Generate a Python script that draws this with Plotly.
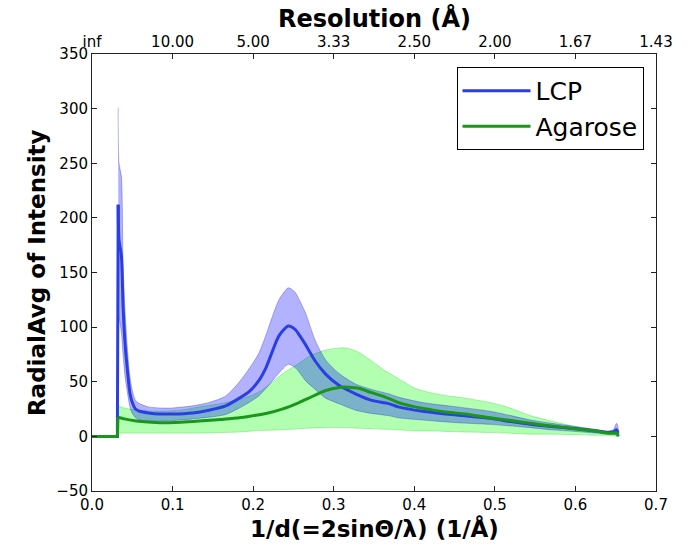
import plotly.graph_objects as go

# ---- data ----
lcp_x = [0.0, 0.0315, 0.0325, 0.0335, 0.0365, 0.0385, 0.041, 0.044, 0.047, 0.050, 0.054, 0.059,
         0.070, 0.084, 0.100, 0.125, 0.145, 0.166, 0.183, 0.195, 0.207, 0.216, 0.224, 0.232,
         0.2436, 0.252, 0.258, 0.265, 0.277, 0.290, 0.306, 0.327, 0.347, 0.368, 0.380, 0.410,
         0.453, 0.494, 0.520, 0.544, 0.570, 0.600, 0.625, 0.640, 0.647, 0.651, 0.653]
lcp_mean = [0, 0, 212, 180, 165, 120, 85, 60, 40, 31, 25, 23,
            21.5, 20.5, 20.5, 21.5, 24, 28, 35, 41, 51, 63, 78, 92,
            101, 98, 92, 84, 69, 57, 47, 39, 33, 30, 27, 23,
            19.5, 16.5, 13.5, 11, 9, 7, 5, 3.5, 4, 6, 3]
lcp_low = [0, 0, 120, 110, 95, 75, 55, 40, 27, 21, 17, 15,
           14, 14, 14.5, 16, 17.5, 20, 26, 31, 37, 44, 51, 58,
           66, 63, 58, 51, 43, 35, 30, 24, 21, 19, 17, 15,
           12.5, 11, 9.5, 8, 6, 4.5, 3, 2, 2, 1, 0]
lcp_high = [0, 0, 301, 250, 238, 160, 115, 80, 55, 42, 33, 30,
            27, 26, 26, 28, 31, 37, 50, 62, 76, 93, 110, 125,
            136, 132, 124, 113, 88, 70, 58, 48, 43, 39, 36, 31,
            27, 23, 19, 15, 12, 9, 6.5, 5, 6, 12, 8]

aga_x = [0.0, 0.0315, 0.0322, 0.040, 0.055, 0.084, 0.110, 0.133, 0.160, 0.183, 0.200, 0.216,
         0.236, 0.257, 0.269, 0.290, 0.309, 0.318, 0.331, 0.347, 0.364, 0.380, 0.401, 0.420,
         0.442, 0.463, 0.494, 0.515, 0.544, 0.570, 0.600, 0.625, 0.640, 0.648, 0.652, 0.653]
aga_mean = [0, 0, 17.5, 16, 14, 12.5, 13, 14, 15.5, 17, 19, 21,
            25, 31, 35, 42, 45, 45, 44, 40, 36, 31, 27, 24.5,
            22, 20.5, 17, 15, 12, 9.5, 7, 5, 3, 3, 3, 0]
aga_low = [0, 0, 3, 3, 3, 3, 3, 3, 3.5, 4, 5, 5.5,
           6, 7, 7.5, 8, 8, 8, 7.5, 7, 6.5, 6, 5, 5,
           4.5, 4, 3.5, 3, 2, 2, 1.5, 1, 1, 0.5, 0, 0]
aga_high = [0, 0, 28, 26, 24, 23, 24, 27, 30, 34, 38, 45,
            57, 67, 73, 79, 81, 80.5, 77, 69, 60, 53, 44, 40,
            37, 35, 31, 27, 19, 14, 9, 6, 4, 4, 5, 0]

bottom_tick_vals = [0.0, 0.1, 0.2, 0.3, 0.4, 0.5, 0.6, 0.7]
bottom_tick_text = ["0.0", "0.1", "0.2", "0.3", "0.4", "0.5", "0.6", "0.7"]
top_tick_text = ["inf", "10.00", "5.00", "3.33", "2.50", "2.00", "1.67", "1.43"]
y_tick_vals = [-50, 0, 50, 100, 150, 200, 250, 300, 350]

BLUE = "#2a3fe3"
GREEN = "#1a961a"
FONT = "DejaVu Sans"
SM = 0.7

fig = go.Figure()

def band(xs, hi, lo, fill, edge):
    xs2, hi2, lo2 = xs[2:], hi[2:], lo[2:]
    fig.add_trace(go.Scatter(
        x=xs2 + xs2[::-1], y=hi2 + lo2[::-1], mode="lines",
        fill="toself", fillcolor=fill,
        line=dict(color=edge, width=0.8, shape="spline", smoothing=SM),
        showlegend=False, hoverinfo="skip"))

band(aga_x, aga_high, aga_low, "rgba(0,255,0,0.3)", "rgba(0,200,0,0.35)")
band(lcp_x, lcp_high, lcp_low, "rgba(0,0,255,0.3)", "rgba(0,0,200,0.35)")

def mean_line(xs, ys, color, name, grp):
    fig.add_trace(go.Scatter(x=xs[:3], y=ys[:3], mode="lines", legendgroup=grp,
                             line=dict(color=color, width=3), showlegend=False,
                             hoverinfo="skip"))
    fig.add_trace(go.Scatter(x=xs[2:], y=ys[2:], mode="lines", name=name, legendgroup=grp,
                             line=dict(color=color, width=3, shape="spline", smoothing=SM)))

mean_line(lcp_x, lcp_mean, BLUE, "LCP", "a")
mean_line(aga_x, aga_mean, GREEN, "Agarose", "b")

# invisible trace for the top axis
fig.add_trace(go.Scatter(x=[0, 0.7], y=[0, 0], xaxis="x2", mode="markers",
                         marker=dict(opacity=0), showlegend=False, hoverinfo="skip"))

axis_common = dict(showgrid=False, zeroline=False, showline=True, linecolor="#222",
                   linewidth=1, ticks="inside", ticklen=5, tickcolor="#222",
                   automargin=False,
                   tickfont=dict(family=FONT, size=15, color="black"))

W, H = 693, 547
PX0, PX1, PY0, PY1 = 91.5, 656.5, 54.0, 491.5   # plot area in screen px
L, T = PX0, PY0
pw, ph = PX1 - PX0, PY1 - PY0
R, B = W - L - pw, H - T - ph

def px(xs):
    return (xs - PX0) / pw

def py(ys):
    return (PY1 - ys) / ph

fig.update_layout(
    width=W, height=H,
    margin=dict(l=L, r=R, t=T, b=B, pad=0),
    paper_bgcolor="white", plot_bgcolor="white",
    font=dict(family=FONT, color="black"),
    xaxis=dict(range=[0, 0.7], tickvals=bottom_tick_vals, ticktext=bottom_tick_text,
               **axis_common),
    xaxis2=dict(range=[0, 0.7], overlaying="x", side="top", anchor="y",
                tickvals=bottom_tick_vals, ticktext=top_tick_text,
                **axis_common),
    yaxis=dict(range=[-50, 350], tickvals=y_tick_vals,
               mirror="ticks", **axis_common),
    legend=dict(x=px(644), y=py(67), xanchor="right", yanchor="top",
                bgcolor="white", bordercolor="black", borderwidth=1,
                font=dict(family=FONT, size=25), itemwidth=68,
                tracegroupgap=0),
    annotations=[
        dict(text="<b>RadialAvg of Intensity</b>", xref="paper", yref="paper",
             x=px(36), y=0.5, textangle=-90, showarrow=False,
             font=dict(family=FONT, size=23), xanchor="center", yanchor="middle"),
        dict(text="<b>1/d(=2sinΘ/λ) (1/Å)</b>", xref="paper", yref="paper",
             x=0.5, y=py(529), showarrow=False,
             font=dict(family=FONT, size=23), xanchor="center", yanchor="middle"),
        dict(text="<b>Resolution (Å)</b>", xref="paper", yref="paper",
             x=0.5, y=py(18), showarrow=False,
             font=dict(family=FONT, size=24), xanchor="center", yanchor="middle"),
    ],
)

fig.write_html("out.html", config={"displayModeBar": False},
               post_script="document.body.style.margin='0';document.body.style.padding='0';")
